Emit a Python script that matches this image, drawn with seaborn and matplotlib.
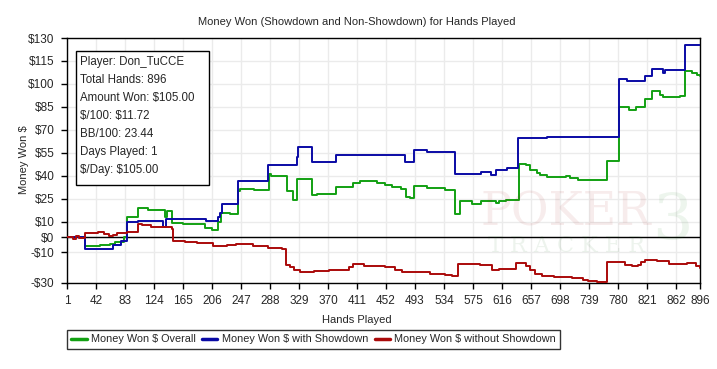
import matplotlib
matplotlib.use("Agg")
import matplotlib.pyplot as plt
import matplotlib.patches as mpatches
from matplotlib.lines import Line2D
import seaborn as sns
import pandas as pd

# ---- data ----
hands_sd = [1, 26, 66, 78, 86, 101, 137, 141, 198, 215, 217, 220, 243, 285, 326, 328,
            347, 382, 479, 492, 510, 549, 587, 601, 608, 623, 639, 679, 781, 793, 818,
            828, 844, 846, 875, 896]
showdown = [0, -7.6, -5.0, -2.4, 9.6, 10.4, 6.3, 11.8, 10.2, 13.0, 15.7, 21.8, 36.8, 47.0,
            52.0, 58.8, 49.0, 53.6, 49.2, 56.9, 55.5, 41.4, 42.2, 40.3, 43.8, 45.3, 64.4,
            65.3, 103.3, 101.7, 105.4, 109.8, 107.2, 109.2, 125.5, 125.5]

hands_nsd = [1, 9, 14, 18, 26, 45, 53, 60, 66, 72, 86, 101, 107, 120, 149, 151, 168, 185,
             208, 227, 240, 264, 285, 305, 310, 317, 322, 330, 350, 372, 400, 405, 421,
             450, 465, 475, 514, 536, 546, 554, 585, 602, 612, 636, 650, 656, 662, 672,
             690, 715, 730, 738, 745, 750, 764, 790, 800, 808, 812, 818, 835, 852, 878,
             890, 896]
non_showdown = [0, -1, 0.5, -0.5, 2.6, 3.3, 2.2, 0.8, 1.5, 2.6, 3.0, 8.7, 7.6, 6.7, 5.2,
                -2.4, -3.3, -4.2, -6.1, -5.5, -4.6, -5.7, -7.2, -7.8, -18.1, -19.6, -21.8,
                -22.5, -22.0, -21.4, -19.5, -17.6, -18.6, -19.6, -21.4, -23.1, -24.0,
                -24.6, -25.7, -17.6, -18.3, -21.8, -20.9, -17.0, -18.6, -21.4, -24.0,
                -25.3, -26.4, -26.8, -27.9, -29.0, -28.4, -29.4, -16.1, -18.1, -19.2,
                -18.1, -16.1, -14.8, -15.9, -17.4, -17.0, -18.6, -20.3]

hands_all = [1, 26, 48, 55, 62, 69, 81, 86, 101, 115, 140, 143, 149, 165, 196, 206, 215,
             219, 232, 243, 246, 265, 286, 290, 312, 321, 326, 347, 355, 382, 394, 405,
             415, 440, 451, 460, 473, 480, 486, 492, 510, 535, 550, 556, 573, 587, 600,
             608, 612, 622, 640, 650, 656, 665, 670, 680, 707, 712, 724, 740, 764, 781,
             795, 806, 818, 828, 840, 844, 868, 875, 884, 892, 896]
overall = [0, -6.1, -5.0, -5.5, -4.5, -2.9, 0, 13.0, 19.0, 17.4, 13.0, 16.7, 9.5, 8.5, 5.9,
           4.6, 10.0, 15.7, 15.0, 29.8, 31.4, 30.5, 41.0, 39.6, 29.8, 24.4, 37.9, 27.6,
           28.3, 32.7, 33.0, 35.3, 36.6, 35.3, 34.2, 33.0, 31.4, 26.1, 25.5, 33.5, 31.8,
           30.9, 15.2, 23.3, 21.8, 23.3, 23.7, 22.2, 23.3, 24.4, 47.7, 46.8, 44.0, 42.0,
           40.7, 39.0, 40.0, 38.6, 37.5, 37.0, 49.4, 85.0, 83.2, 85.0, 90.4, 95.2, 93.0,
           91.2, 92.3, 108.2, 107.2, 106.0, 105.0]

series_names = ["Money Won $ Overall", "Money Won $ with Showdown",
                "Money Won $ without Showdown"]
x_ticks = [1, 42, 83, 124, 165, 206, 247, 288, 329, 370, 411, 452, 493, 534, 575, 616,
           657, 698, 739, 780, 821, 862, 896]
y_ticks = [130, 115, 100, 85, 70, 55, 40, 25, 10, 0, -10, -30]
y_tick_labels = ["$130", "$115", "$100", "$85", "$70", "$55", "$40", "$25", "$10",
                 "$0", "-$10", "-$30"]
info_lines = ["Player: Don_TuCCE", "Total Hands: 896", "Amount Won: $105.00",
              "$/100: $11.72", "BB/100: 23.44", "Days Played: 1", "$/Day: $105.00"]

colors = ["#12a012", "#0a0aa5", "#aa0a0a"]

# ---- figure ----
sns.set_style("white")
plt.rcParams["font.family"] = ["Liberation Sans", "DejaVu Sans"]
FS = 8
W, H = 717, 369
fig = plt.figure(figsize=(W / 100, H / 100), dpi=100)
ax = fig.add_axes([67 / W, 1 - 283 / H, (700 - 67) / W, (283 - 38) / H])

# watermark
fig.text(566 / W, 1 - 213 / H, "POKER", family="DejaVu Serif", fontsize=33,
         color="#a01010", alpha=0.08, ha="center", va="center", zorder=0)
fig.text(566 / W, 1 - 246 / H, "T R A C K E R", family="DejaVu Serif", fontsize=16,
         color="#207020", alpha=0.08, ha="center", va="center", zorder=0)
fig.text(672 / W, 1 - 222 / H, "3", family="DejaVu Serif", fontsize=46,
         color="#208020", alpha=0.08, ha="center", va="center", zorder=0)

for g in x_ticks:
    ax.axvline(g, color="#ebebeb", lw=1, zorder=0)
for g in y_ticks:
    ax.axhline(g, color="#ebebeb", lw=1, zorder=0)
ax.axhline(0, color="black", lw=1, zorder=1)

frames = [(hands_all, overall), (hands_sd, showdown), (hands_nsd, non_showdown)]
for (hx, hy), name, c in zip(frames, series_names, colors):
    df = pd.DataFrame({"hand": hx, "won": hy})
    sns.lineplot(data=df, x="hand", y="won", ax=ax, color=c, lw=1.4,
                 drawstyle="steps-post", estimator=None, zorder=3, legend=False)

ax.set_xlim(1, 896)
ax.set_ylim(-30, 130)
ax.set_xticks(x_ticks)
ax.set_xticklabels([str(t) for t in x_ticks], fontsize=8.5)
ax.set_yticks(y_ticks)
ax.set_yticklabels(y_tick_labels, fontsize=8.5)
ax.tick_params(axis="both", direction="out", length=4, width=1, color="black",
               pad=5, bottom=True, left=True)
for s in ax.spines.values():
    s.set_color("black")
    s.set_linewidth(1)
ax.set_xlabel("")
ax.set_ylabel("")

handles = [Line2D([0], [0], color=c, lw=2.5) for c in colors]
leg = fig.legend(handles, series_names, loc="upper left", ncol=3,
                 bbox_to_anchor=(67 / W, 1 - 330 / H), fontsize=7.8, frameon=True,
                 fancybox=False, edgecolor="black", handlelength=1.4,
                 handletextpad=0.4, columnspacing=0.6, borderpad=0.4,
                 borderaxespad=0)
leg.get_frame().set_linewidth(1)

fig.text(357 / W, 1 - 22 / H, "Money Won (Showdown and Non-Showdown) for Hands Played",
         ha="center", va="center", fontsize=FS)
fig.text(357 / W, 1 - 320 / H, "Hands Played", ha="center", va="center", fontsize=FS)
fig.text(24 / W, 1 - 160 / H, "Money Won $", ha="center", va="center", fontsize=FS,
         rotation=90)

# info box
fig.patches.append(mpatches.Rectangle((75.5 / W, 1 - 185 / H), 133 / W, 134 / H,
                                      transform=fig.transFigure, fill=True,
                                      facecolor="white", edgecolor="black", lw=1,
                                      zorder=5))
for i, t in enumerate(info_lines):
    fig.text(80 / W, 1 - (62 + 18 * i) / H, t, ha="left", va="center", fontsize=8.3,
             zorder=6, parse_math=False)

fig.savefig("out.png", dpi=100)
